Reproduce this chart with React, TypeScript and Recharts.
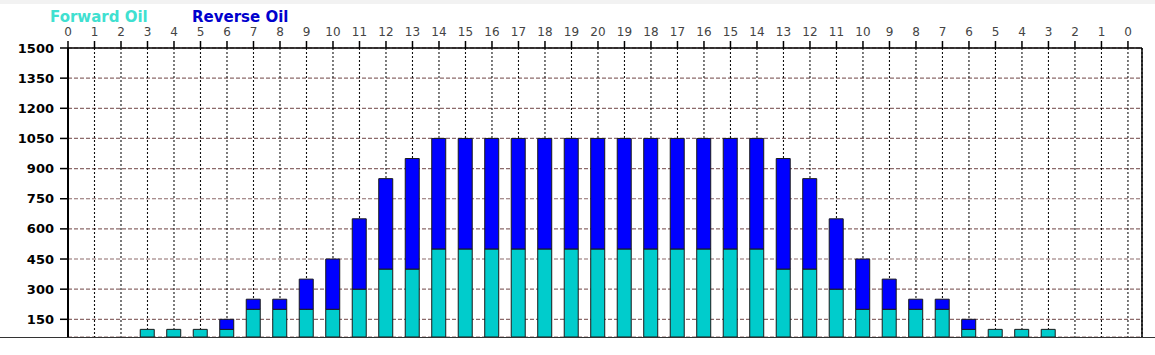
import { useEffect } from 'react';
import {
  Bar,
  BarChart,
  CartesianGrid,
  ReferenceLine,
  XAxis,
  YAxis,
} from 'recharts';

// top axis labels, one per bar slot
const labels = [
  '0', '1', '2', '3', '4', '5', '6', '7', '8', '9', '10', '11', '12', '13', '14', '15', '16', '17', '18', '19',
  '20',
  '19', '18', '17', '16', '15', '14', '13', '12', '11', '10', '9', '8', '7', '6', '5', '4', '3', '2', '1', '0',
];

const forwardOil = [
  0, 0, 0, 100, 100, 100, 100, 200, 200, 200, 200, 300, 400, 400, 500, 500, 500, 500, 500, 500,
  500,
  500, 500, 500, 500, 500, 500, 400, 400, 300, 200, 200, 200, 200, 100, 100, 100, 100, 0, 0, 0,
];

const reverseOil = [
  0, 0, 0, 0, 0, 0, 50, 50, 50, 150, 250, 350, 450, 550, 550, 550, 550, 550, 550, 550,
  550,
  550, 550, 550, 550, 550, 550, 550, 450, 350, 250, 150, 50, 50, 50, 0, 0, 0, 0, 0, 0,
];

const yTicks = [150, 300, 450, 600, 750, 900, 1050, 1200, 1350, 1500];

const rows = labels.map((label, i) => ({
  idx: i,
  label,
  forward: forwardOil[i],
  reverse: reverseOil[i],
}));

const xTicks = labels.map((_, i) => i);
const X_MAX = 40.53;
const FONT = '"DejaVu Sans", Verdana, sans-serif';

export default function App() {
  useEffect(() => {
    document.body.style.margin = '0';
  }, []);

  return (
    <div style={{ position: 'relative', width: 1155, height: 355, background: '#fff', fontFamily: FONT }}>
      <div style={{ position: 'absolute', left: 0, top: 0, width: 1155, height: 4, background: '#f2f2f2' }} />
      <div
        style={{
          position: 'absolute',
          left: 50,
          top: 8,
          fontSize: 15,
          fontWeight: 'bold',
          color: '#40e0d0',
          zIndex: 2,
        }}
      >
        Forward Oil
      </div>
      <div
        style={{
          position: 'absolute',
          left: 192,
          top: 8,
          fontSize: 15,
          fontWeight: 'bold',
          color: '#0000cd',
          zIndex: 2,
        }}
      >
        Reverse Oil
      </div>
      <BarChart
        width={1155}
        height={355}
        data={rows}
        margin={{ top: 18, right: 13, left: 8, bottom: 18 }}
      >
        <CartesianGrid
          horizontal={true}
          vertical={false}
          stroke="#8c6a6a"
          strokeDasharray="4 2"
          strokeWidth={1.2}
        />
        <CartesianGrid
          horizontal={false}
          vertical={true}
          stroke="#111"
          strokeDasharray="2 2"
          strokeWidth={1.1}
        />
        <XAxis
          dataKey="idx"
          type="number"
          orientation="top"
          domain={[0, X_MAX]}
          ticks={xTicks}
          interval={0}
          allowDataOverflow
          tickFormatter={(v: number) => labels[v]}
          tick={{ fontSize: 12, fill: '#444', fontFamily: FONT }}
          tickSize={7}
          tickMargin={5}
          stroke="#000"
          axisLine={{ stroke: '#000', strokeWidth: 1.5 }}
          tickLine={{ stroke: '#000', strokeWidth: 1.5 }}
          height={30}
        />
        <YAxis
          type="number"
          domain={[62, 1500]}
          ticks={yTicks}
          interval={0}
          allowDataOverflow
          tick={{ fontSize: 13, fill: '#000', fontWeight: 'bold', fontFamily: FONT }}
          tickSize={8}
          tickMargin={6}
          axisLine={{ stroke: '#000', strokeWidth: 2 }}
          tickLine={{ stroke: '#000', strokeWidth: 1.5 }}
          width={60}
        />
        <ReferenceLine x={X_MAX} stroke="#000" strokeWidth={1.5} ifOverflow="visible" />
        <Bar
          dataKey="forward"
          stackId="oil"
          fill="#00cccc"
          stroke="#1a1a1a"
          strokeWidth={1}
          barSize={14}
          isAnimationActive={false}
        />
        <Bar
          dataKey="reverse"
          stackId="oil"
          fill="#0000ff"
          stroke="#1a1a1a"
          strokeWidth={1}
          barSize={14}
          isAnimationActive={false}
        />
      </BarChart>
      <div style={{ position: 'absolute', left: 0, top: 337, width: 1155, height: 1, background: '#333' }} />
    </div>
  );
}
